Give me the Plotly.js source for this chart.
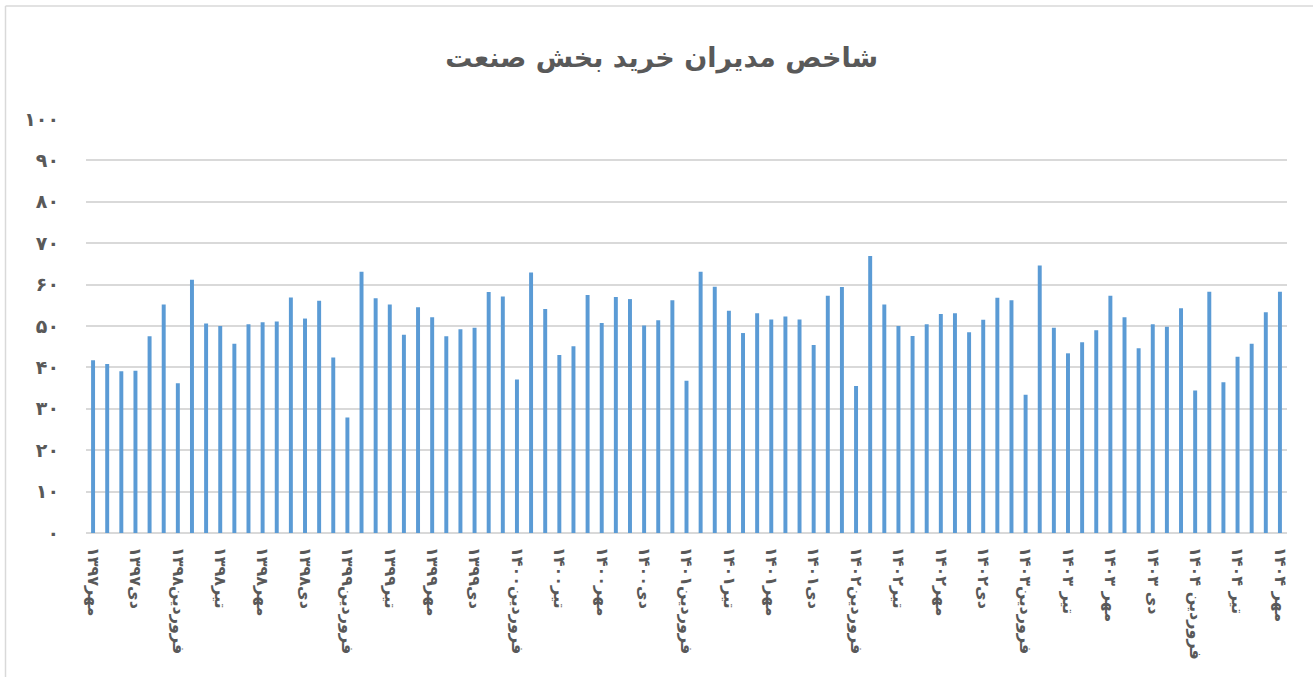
<!DOCTYPE html>
<html>
<head>
<meta charset="utf-8">
<script src="https://cdn.plot.ly/plotly-3.0.1.min.js"></script>
<style>
  html, body { margin: 0; padding: 0; background: #ffffff; }
  #chart { width: 1313px; height: 677px; }
</style>
</head>
<body>
<div id="chart"></div>
<script>
// ---- Data ----
const chartTitle = "شاخص مدیران خرید بخش صنعت";

const monthNames = ["فروردین", "اردیبهشت", "خرداد", "تیر", "مرداد", "شهریور",
                    "مهر", "آبان", "آذر", "دی", "بهمن", "اسفند"];
const yearNames = ["۱۳۹۷", "۱۳۹۸", "۱۳۹۹", "۱۴۰۰", "۱۴۰۱", "۱۴۰۲", "۱۴۰۳", "۱۴۰۴"];

// PMI values, Mehr 1397 .. Mehr 1404 (85 months)
const pmiValues = [
  41.7, 40.8, 39.1, 39.2, 47.5, 55.2, 36.2, 61.2, 50.6, 50.0,
  45.7, 50.4, 50.9, 51.1, 56.9, 51.8, 56.1, 42.4, 27.9, 63.1,
  56.7, 55.2, 47.9, 54.5, 52.1, 47.5, 49.2, 49.6, 58.2, 57.1,
  37.1, 62.9, 54.1, 43.0, 45.1, 57.5, 50.7, 57.0, 56.5, 50.1,
  51.4, 56.2, 36.8, 63.1, 59.5, 53.7, 48.3, 53.1, 51.6, 52.3,
  51.6, 45.4, 57.3, 59.4, 35.5, 66.9, 55.2, 50.0, 47.6, 50.4,
  52.9, 53.1, 48.5, 51.5, 56.8, 56.2, 33.4, 64.6, 49.6, 43.4,
  46.1, 49.0, 57.3, 52.1, 44.6, 50.4, 49.8, 54.3, 34.4, 58.3,
  36.4, 42.6, 45.7, 53.3, 58.3
];

// Tick labels shown on the x axis (every third month)
const xTickLabels = [
  "۱۳۹۷مهر", "۱۳۹۷دی", "۱۳۹۸فروردین", "۱۳۹۸تیر", "۱۳۹۸مهر", "۱۳۹۸دی",
  "۱۳۹۹فروردین", "۱۳۹۹تیر", "۱۳۹۹مهر", "۱۳۹۹دی",
  "۱۴۰۰فروردین", "۱۴۰۰تیر", "۱۴۰۰مهر", "۱۴۰۰دی",
  "۱۴۰۱فروردین", "۱۴۰۱تیر", "۱۴۰۱مهر", "۱۴۰۱دی",
  "۱۴۰۲فروردین", "۱۴۰۲تیر", "۱۴۰۲مهر", "۱۴۰۲دی",
  "۱۴۰۳فروردین", "۱۴۰۳ تیر", "۱۴۰۳ مهر", "۱۴۰۳ دی",
  "۱۴۰۴ فروردین", "۱۴۰۴ تیر", "۱۴۰۴ مهر"
];

const yTickValues = [0, 10, 20, 30, 40, 50, 60, 70, 80, 90, 100];
const yTickLabels = ["۰", "۱۰", "۲۰", "۳۰", "۴۰", "۵۰", "۶۰", "۷۰", "۸۰", "۹۰", "۱۰۰"];

// ---- Build month categories: Mehr 1397 onward ----
const categories = [];
let yi = 0, mi = 6;
for (let k = 0; k < pmiValues.length; k++) {
  categories.push(monthNames[mi] + " " + yearNames[yi]);
  mi++;
  if (mi === 12) { mi = 0; yi++; }
}
const xTickVals = categories.filter((c, i) => i % 3 === 0);

const textColor = "#595959";
const fontFamily = "DejaVu Sans, sans-serif";

const trace = {
  type: "bar",
  x: categories,
  y: pmiValues,
  marker: { color: "#5B9BD5" },
  hoverinfo: "x+y"
};

// plot area pixels: x 86..1287, y 119..533
const pxX = px => (px - 86) / 1201;
const pxY = py => (533 - py) / 414;

const layout = {
  width: 1313,
  height: 677,
  margin: { l: 86, r: 26, t: 119, b: 144 },
  paper_bgcolor: "#ffffff",
  plot_bgcolor: "#ffffff",
  bargap: 0.72,
  showlegend: false,
  font: { family: fontFamily, color: textColor },
  title: {
    text: chartTitle,
    x: 0.504, xref: "container", xanchor: "center",
    y: 0.915, yref: "container", yanchor: "middle",
    font: { family: fontFamily, size: 27, color: textColor, weight: "bold" }
  },
  xaxis: {
    type: "category",
    tickmode: "array",
    tickvals: xTickVals,
    ticktext: xTickLabels,
    tickangle: 90,
    ticks: "",
    ticklabelstandoff: 13,
    tickfont: { family: fontFamily, size: 16, color: textColor, weight: "bold" },
    showgrid: false,
    showline: false,
    zeroline: false,
    fixedrange: true
  },
  yaxis: {
    range: [0, 100],
    tickmode: "array",
    tickvals: yTickValues,
    ticktext: yTickLabels,
    ticks: "",
    ticklabelstandoff: 26,
    tickfont: { family: fontFamily, size: 19, color: textColor, weight: "bold" },
    showgrid: true,
    gridcolor: "#D9D9D9",
    gridwidth: 1.5,
    zeroline: true,
    zerolinecolor: "#D9D9D9",
    zerolinewidth: 1.5,
    showline: false,
    fixedrange: true
  },
  shapes: [
    { type: "line", xref: "paper", yref: "paper",
      x0: pxX(5.5), x1: pxX(5.5), y0: pxY(6), y1: pxY(677),
      line: { color: "#D9D9D9", width: 1.5 } },
    { type: "line", xref: "paper", yref: "paper",
      x0: pxX(5.5), x1: pxX(1313), y0: pxY(6), y1: pxY(6),
      line: { color: "#D9D9D9", width: 1.5 } }
  ]
};

Plotly.newPlot("chart", [trace], layout, { displayModeBar: false });
</script>
</body>
</html>
